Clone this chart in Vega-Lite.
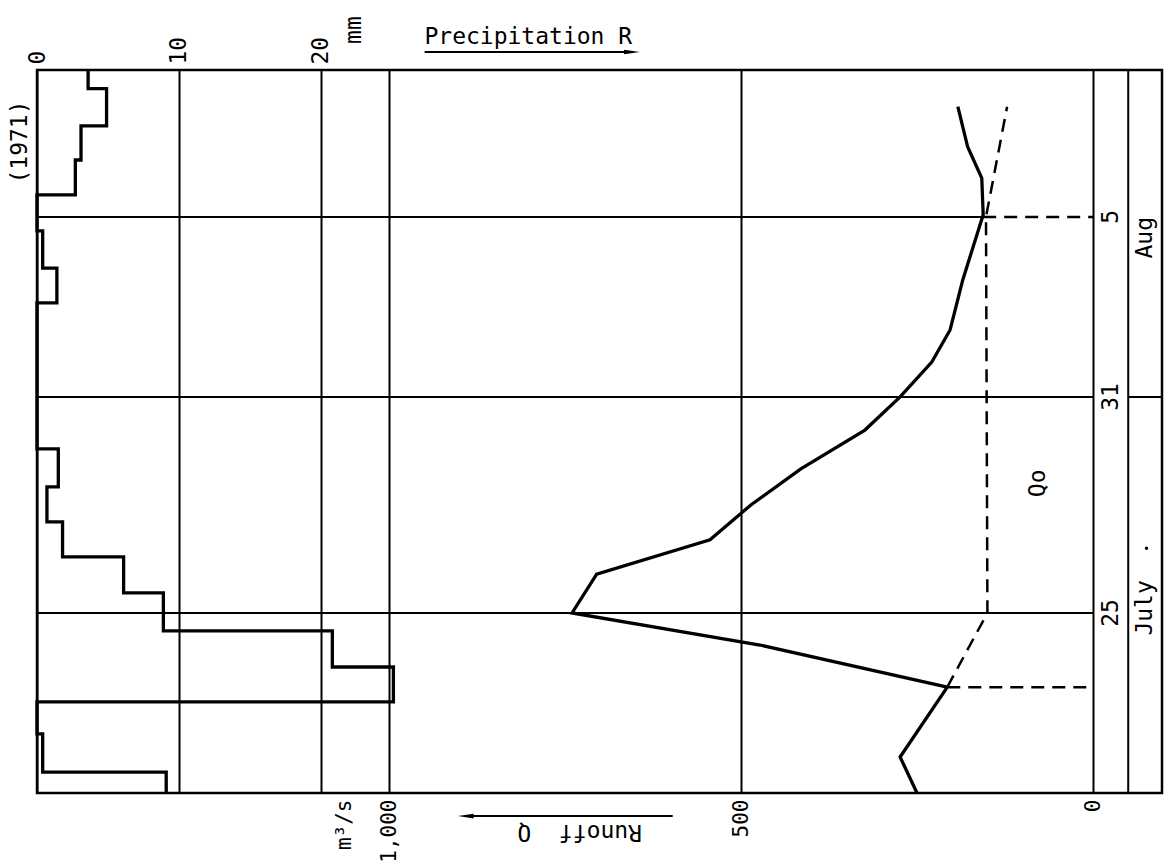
{
  "$schema": "https://vega.github.io/schema/vega-lite/v6.json",
  "width": 1125,
  "height": 723,
  "autosize": {"type": "none"},
  "padding": {"left": 37, "top": 70, "right": 3, "bottom": 74},
  "background": "white",
  "data": {"values": [{}]},
  "config": {
    "view": {"stroke": "black", "strokeWidth": 2.5},
    "font": "DejaVu Sans Mono",
    "text": {"font": "DejaVu Sans Mono", "fontSize": 23, "color": "black"},
    "axis": {"domain": false, "ticks": false, "grid": true, "gridColor": "black", "gridWidth": 2, "gridOpacity": 1, "labelFont": "DejaVu Sans Mono", "labelFontSize": 23, "labelColor": "black", "title": null, "labelOverlap": false}
  },
  "datasets": {
    "precip": [
      {"t": 20.0, "R": 9.1}, {"t": 20.58, "R": 0.4}, {"t": 21.64, "R": 0}, {"t": 22.53, "R": 25.1},
      {"t": 23.5, "R": 20.8}, {"t": 24.5, "R": 8.9}, {"t": 25.56, "R": 6.1}, {"t": 26.56, "R": 1.8},
      {"t": 27.53, "R": 0.7}, {"t": 28.5, "R": 1.5}, {"t": 29.56, "R": 0}, {"t": 33.61, "R": 1.4},
      {"t": 34.58, "R": 0.4}, {"t": 35.61, "R": 0}, {"t": 36.61, "R": 2.7}, {"t": 37.58, "R": 3.1},
      {"t": 38.53, "R": 4.9}, {"t": 39.56, "R": 3.6}, {"t": 40.08, "R": 3.6}
    ],
    "runoff": [
      {"t": 20.0, "Q": 250}, {"t": 21.0, "Q": 274}, {"t": 22.94, "Q": 207}, {"t": 24.11, "Q": 473},
      {"t": 25.0, "Q": 740}, {"t": 26.08, "Q": 705}, {"t": 27.03, "Q": 544}, {"t": 28.0, "Q": 486},
      {"t": 29.0, "Q": 415}, {"t": 30.08, "Q": 324}, {"t": 31.0, "Q": 274}, {"t": 31.97, "Q": 229},
      {"t": 32.86, "Q": 203}, {"t": 34.25, "Q": 185}, {"t": 36.06, "Q": 156}, {"t": 37.08, "Q": 158},
      {"t": 37.94, "Q": 178}, {"t": 39.06, "Q": 192}
    ],
    "baseflow": [
      {"t": 22.94, "Q": 207}, {"t": 25.0, "Q": 150}, {"t": 36.0, "Q": 152}, {"t": 39.06, "Q": 122}
    ],
    "dateLines": [
      {"t": 25, "from": 1500, "to": 0}, {"t": 31, "from": 1500, "to": 0}, {"t": 36, "from": 1500, "to": 156}
    ],
    "sepLines": [
      {"t": 22.94, "from": 207, "to": 0}, {"t": 36, "from": 156, "to": 0}
    ],
    "monthBreak": [{"t": 31, "from": -50, "to": -98}],
    "dateLabels": [{"t": 25, "label": "25"}, {"t": 31, "label": "31"}, {"t": 36, "label": "5"}],
    "monthLabels": [{"t": 25.14, "label": "July"}, {"t": 35.42, "label": "Aug"}]
  },
  "layer": [
    {
      "data": {"name": "precip"},
      "mark": {"type": "line", "interpolate": "step-before", "color": "black", "strokeWidth": 3.3},
      "encoding": {
        "x": {"field": "R", "type": "quantitative", "scale": {"domain": [0, 79.23], "nice": false, "zero": false},
              "axis": {"orient": "top", "values": [0, 10, 20], "grid": true, "labelAngle": -90, "labelAlign": "left", "labelBaseline": "middle", "labelPadding": 6}},
        "y": {"field": "t", "type": "quantitative", "scale": {"domain": [20, 40.08], "nice": false, "zero": false}, "axis": null},
        "order": {"field": "t", "type": "quantitative"}
      }
    },
    {
      "data": {"name": "runoff"},
      "mark": {"type": "line", "color": "black", "strokeWidth": 3.3},
      "encoding": {
        "x": {"field": "Q", "type": "quantitative", "scale": {"domain": [-98, 1500], "reverse": true, "nice": false, "zero": false},
              "axis": {"orient": "bottom", "values": [0, 500, 1000], "format": ",d", "grid": true, "gridColor": "black", "gridWidth": 2, "gridOpacity": 1, "labelFontSize": 21, "labelAngle": -90, "labelAlign": "right", "labelBaseline": "middle", "labelPadding": 6}},
        "y": {"field": "t", "type": "quantitative", "scale": {"domain": [20, 40.08], "nice": false, "zero": false}, "axis": null},
        "order": {"field": "t", "type": "quantitative"}
      }
    },
    {
      "mark": {"type": "text", "text": "(1971)", "angle": -90, "align": "center", "baseline": "middle"},
      "encoding": {
        "x": {"datum": -1.2, "type": "quantitative", "scale": {"domain": [0, 79.23], "nice": false, "zero": false}, "axis": null},
        "y": {"datum": 38.08, "type": "quantitative", "scale": {"domain": [20, 40.08], "nice": false, "zero": false}, "axis": null}
      }
    },
    {
      "mark": {"type": "text", "text": "mm", "angle": -90, "align": "center", "baseline": "middle"},
      "encoding": {
        "x": {"datum": 22.3, "type": "quantitative", "scale": {"domain": [0, 79.23], "nice": false, "zero": false}, "axis": null},
        "y": {"datum": 41.19, "type": "quantitative", "scale": {"domain": [20, 40.08], "nice": false, "zero": false}, "axis": null}
      }
    },
    {
      "mark": {"type": "text", "text": "Precipitation R", "align": "center", "baseline": "middle"},
      "encoding": {
        "x": {"datum": 34.6, "type": "quantitative", "scale": {"domain": [0, 79.23], "nice": false, "zero": false}, "axis": null},
        "y": {"datum": 41.0, "type": "quantitative", "scale": {"domain": [20, 40.08], "nice": false, "zero": false}, "axis": null}
      }
    },
    {
      "mark": {"type": "rule", "color": "black", "strokeWidth": 2},
      "encoding": {
        "x": {"datum": 27.3, "type": "quantitative", "scale": {"domain": [0, 79.23], "nice": false, "zero": false}, "axis": null},
        "x2": {"datum": 42.0},
        "y": {"datum": 40.58, "type": "quantitative", "scale": {"domain": [20, 40.08], "nice": false, "zero": false}, "axis": null}
      }
    },
    {
      "mark": {"type": "point", "shape": "M-1,-0.3L1,0L-1,0.3Z", "filled": true, "color": "black", "size": 250, "opacity": 1},
      "encoding": {
        "x": {"datum": 41.9, "type": "quantitative", "scale": {"domain": [0, 79.23], "nice": false, "zero": false}, "axis": null},
        "y": {"datum": 40.58, "type": "quantitative", "scale": {"domain": [20, 40.08], "nice": false, "zero": false}, "axis": null}
      }
    },
    {
      "data": {"name": "baseflow"},
      "mark": {"type": "line", "color": "black", "strokeWidth": 2.5, "strokeDash": [13, 8]},
      "encoding": {
        "x": {"field": "Q", "type": "quantitative", "scale": {"domain": [-98, 1500], "reverse": true, "nice": false, "zero": false}, "axis": null},
        "y": {"field": "t", "type": "quantitative", "scale": {"domain": [20, 40.08], "nice": false, "zero": false}, "axis": null},
        "order": {"field": "t", "type": "quantitative"}
      }
    },
    {
      "data": {"name": "dateLines"},
      "mark": {"type": "rule", "color": "black", "strokeWidth": 2},
      "encoding": {
        "x": {"field": "from", "type": "quantitative", "scale": {"domain": [-98, 1500], "reverse": true, "nice": false, "zero": false}, "axis": null},
        "x2": {"field": "to"},
        "y": {"field": "t", "type": "quantitative", "scale": {"domain": [20, 40.08], "nice": false, "zero": false}, "axis": null}
      }
    },
    {
      "data": {"name": "sepLines"},
      "mark": {"type": "rule", "color": "black", "strokeWidth": 2.5, "strokeDash": [13, 8]},
      "encoding": {
        "x": {"field": "from", "type": "quantitative", "scale": {"domain": [-98, 1500], "reverse": true, "nice": false, "zero": false}, "axis": null},
        "x2": {"field": "to"},
        "y": {"field": "t", "type": "quantitative", "scale": {"domain": [20, 40.08], "nice": false, "zero": false}, "axis": null}
      }
    },
    {
      "data": {"name": "monthBreak"},
      "mark": {"type": "rule", "color": "black", "strokeWidth": 2},
      "encoding": {
        "x": {"field": "from", "type": "quantitative", "scale": {"domain": [-98, 1500], "reverse": true, "nice": false, "zero": false}, "axis": null},
        "x2": {"field": "to"},
        "y": {"field": "t", "type": "quantitative", "scale": {"domain": [20, 40.08], "nice": false, "zero": false}, "axis": null}
      }
    },
    {
      "mark": {"type": "rule", "color": "black", "strokeWidth": 2},
      "encoding": {
        "x": {"datum": -50, "type": "quantitative", "scale": {"domain": [-98, 1500], "reverse": true, "nice": false, "zero": false}, "axis": null}
      }
    },
    {
      "data": {"name": "dateLabels"},
      "mark": {"type": "text", "angle": -90, "align": "center", "baseline": "middle"},
      "encoding": {
        "x": {"datum": -25, "type": "quantitative", "scale": {"domain": [-98, 1500], "reverse": true, "nice": false, "zero": false}, "axis": null},
        "y": {"field": "t", "type": "quantitative", "scale": {"domain": [20, 40.08], "nice": false, "zero": false}, "axis": null},
        "text": {"field": "label"}
      }
    },
    {
      "data": {"name": "monthLabels"},
      "mark": {"type": "text", "angle": -90, "align": "center", "baseline": "middle"},
      "encoding": {
        "x": {"datum": -74, "type": "quantitative", "scale": {"domain": [-98, 1500], "reverse": true, "nice": false, "zero": false}, "axis": null},
        "y": {"field": "t", "type": "quantitative", "scale": {"domain": [20, 40.08], "nice": false, "zero": false}, "axis": null},
        "text": {"field": "label"}
      }
    },
    {
      "mark": {"type": "point", "filled": true, "color": "black", "size": 12, "opacity": 1},
      "encoding": {
        "x": {"datum": -76, "type": "quantitative", "scale": {"domain": [-98, 1500], "reverse": true, "nice": false, "zero": false}, "axis": null},
        "y": {"datum": 26.8, "type": "quantitative", "scale": {"domain": [20, 40.08], "nice": false, "zero": false}, "axis": null}
      }
    },
    {
      "mark": {"type": "text", "text": "Qo", "angle": -90, "align": "center", "baseline": "middle"},
      "encoding": {
        "x": {"datum": 78, "type": "quantitative", "scale": {"domain": [-98, 1500], "reverse": true, "nice": false, "zero": false}, "axis": null},
        "y": {"datum": 28.6, "type": "quantitative", "scale": {"domain": [20, 40.08], "nice": false, "zero": false}, "axis": null}
      }
    },
    {
      "mark": {"type": "text", "text": "m³/s", "angle": -90, "align": "right", "baseline": "middle", "fontSize": 21},
      "encoding": {
        "x": {"datum": 1062, "type": "quantitative", "scale": {"domain": [-98, 1500], "reverse": true, "nice": false, "zero": false}, "axis": null},
        "y": {"datum": 19.82, "type": "quantitative", "scale": {"domain": [20, 40.08], "nice": false, "zero": false}, "axis": null}
      }
    },
    {
      "mark": {"type": "text", "text": "Runoff\u00a0\u00a0Q", "angle": 180, "align": "center", "baseline": "middle"},
      "encoding": {
        "x": {"datum": 729, "type": "quantitative", "scale": {"domain": [-98, 1500], "reverse": true, "nice": false, "zero": false}, "axis": null},
        "y": {"datum": 18.92, "type": "quantitative", "scale": {"domain": [20, 40.08], "nice": false, "zero": false}, "axis": null}
      }
    },
    {
      "mark": {"type": "rule", "color": "black", "strokeWidth": 2},
      "encoding": {
        "x": {"datum": 890, "type": "quantitative", "scale": {"domain": [-98, 1500], "reverse": true, "nice": false, "zero": false}, "axis": null},
        "x2": {"datum": 597},
        "y": {"datum": 19.36, "type": "quantitative", "scale": {"domain": [20, 40.08], "nice": false, "zero": false}, "axis": null}
      }
    },
    {
      "mark": {"type": "point", "shape": "M1,-0.3L-1,0L1,0.3Z", "filled": true, "color": "black", "size": 250, "opacity": 1},
      "encoding": {
        "x": {"datum": 891, "type": "quantitative", "scale": {"domain": [-98, 1500], "reverse": true, "nice": false, "zero": false}, "axis": null},
        "y": {"datum": 19.36, "type": "quantitative", "scale": {"domain": [20, 40.08], "nice": false, "zero": false}, "axis": null}
      }
    }
  ],
  "resolve": {"scale": {"x": "independent"}, "axis": {"x": "independent"}}
}
